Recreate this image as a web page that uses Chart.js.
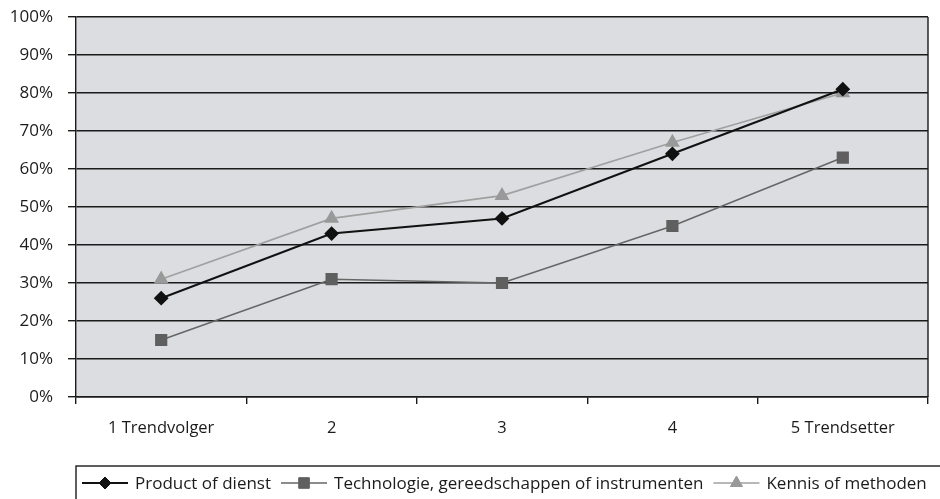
<!DOCTYPE html>
<html>
<head>
<meta charset="utf-8">
<script src="https://cdn.jsdelivr.net/npm/chart.js@4"></script>
<style>
  html, body { margin: 0; padding: 0; background: #fff; }
  #wrap { width: 940px; height: 499px; }
</style>
</head>
<body>
<div id="wrap"><canvas id="trend-chart" width="940" height="499"></canvas></div>
<script>
const categories = ["1 Trendvolger", "2", "3", "4", "5 Trendsetter"];
const seriesNames = ["Product of dienst", "Technologie, gereedschappen of instrumenten", "Kennis of methoden"];
const productValues = [26, 43, 47, 64, 81];
const techValues = [15, 31, 30, 45, 63];
const kennisValues = [31, 47, 53, 67, 80];
const yTicks = [0, 10, 20, 30, 40, 50, 60, 70, 80, 90, 100];

const FONT = "'Open Sans'";
const INK = "#1b1b1b";

// grey plot background plus right edge of the frame
const plotBackground = {
    id: 'plotBackground',
    beforeDraw(chart) {
        const a = chart.chartArea;
        const ctx = chart.ctx;
        ctx.save();
        ctx.fillStyle = '#dcdde0';
        ctx.fillRect(a.left, a.top, a.right - a.left, a.bottom - a.top);
        ctx.restore();
    },
    afterDatasetsDraw(chart) {
        const a = chart.chartArea;
        const ctx = chart.ctx;
        ctx.save();
        ctx.strokeStyle = INK;
        ctx.lineWidth = 1.4;
        ctx.beginPath();
        ctx.moveTo(a.right, a.top);
        ctx.lineTo(a.right, a.bottom);
        ctx.stroke();
        ctx.restore();
    }
};

// legend in a framed box: line + marker + label per series
const boxLegend = {
    id: 'boxLegend',
    afterDraw(chart) {
        const ctx = chart.ctx;
        const left = chart.chartArea.left;
        const top = 466;
        const cy = 483;
        ctx.save();
        ctx.strokeStyle = INK;
        ctx.lineWidth = 1.4;
        ctx.strokeRect(left, top, 1000, 100);
        ctx.font = "17px " + FONT;
        ctx.textBaseline = 'middle';
        let x = left + 6;
        chart.data.datasets.forEach(ds => {
            ctx.strokeStyle = ds.borderColor;
            ctx.lineWidth = ds.borderWidth;
            ctx.beginPath();
            ctx.moveTo(x, cy);
            ctx.lineTo(x + 46, cy);
            ctx.stroke();
            ctx.fillStyle = ds.pointBackgroundColor;
            ctx.strokeStyle = ds.pointBorderColor;
            ctx.lineWidth = 1;
            Chart.helpers.drawPoint(ctx, {
                pointStyle: ds.pointStyle,
                radius: ds.pointRadius,
                rotation: 0,
                borderWidth: 1
            }, x + 23, cy);
            ctx.fillStyle = INK;
            ctx.fillText(ds.label, x + 53, cy + 1);
            x += 53 + ctx.measureText(ds.label).width + 10;
        });
        ctx.restore();
    }
};

function buildTrendChart() {
    const ctx = document.getElementById('trend-chart').getContext('2d');
    return new Chart(ctx, {
        type: 'line',
        data: {
            labels: categories,
            datasets: [{
                label: seriesNames[0],
                data: productValues,
                borderColor: '#111111',
                borderWidth: 2,
                pointStyle: 'rectRot',
                pointRadius: 6,
                pointBackgroundColor: '#111111',
                pointBorderColor: '#111111'
            }, {
                label: seriesNames[1],
                data: techValues,
                borderColor: '#666666',
                borderWidth: 1.6,
                pointStyle: 'rect',
                pointRadius: 7.5,
                pointBackgroundColor: '#5f5f5f',
                pointBorderColor: '#5f5f5f'
            }, {
                label: seriesNames[2],
                data: kennisValues,
                borderColor: '#a0a0a0',
                borderWidth: 1.6,
                pointStyle: 'triangle',
                pointRadius: 7,
                pointBackgroundColor: '#999999',
                pointBorderColor: '#999999'
            }]
        },
        options: {
            responsive: false,
            animation: false,
            layout: { padding: { top: 17, right: 12, left: 0, bottom: 0 } },
            plugins: {
                legend: { display: false },
                tooltip: { enabled: false }
            },
            elements: { line: { tension: 0 } },
            scales: {
                x: {
                    offset: true,
                    afterFit(scale) { scale.height = 102; },
                    grid: {
                        offset: true,
                        drawOnChartArea: false,
                        drawTicks: true,
                        tickLength: 7,
                        color: INK,
                        lineWidth: 1.4
                    },
                    border: { display: true, color: INK, width: 1.4 },
                    ticks: {
                        color: INK,
                        padding: 14,
                        maxRotation: 0,
                        font: { family: FONT, size: 16.5 }
                    }
                },
                y: {
                    min: yTicks[0],
                    max: yTicks[yTicks.length - 1],
                    afterFit(scale) {
                        scale.width = 76;
                        scale.paddingTop = 0;
                        scale.paddingBottom = 0;
                    },
                    afterBuildTicks(scale) { scale.ticks = yTicks.map(v => ({ value: v })); },
                    grid: {
                        color: INK,
                        lineWidth: 1.4,
                        tickLength: 8,
                        drawTicks: true
                    },
                    border: { display: true, color: INK, width: 1.4 },
                    ticks: {
                        color: INK,
                        padding: 15,
                        font: { family: FONT, size: 17 },
                        callback: v => v + '%'
                    }
                }
            }
        },
        plugins: [plotBackground, boxLegend]
    });
}

function initPage() {
    buildTrendChart();
}

document.addEventListener('DOMContentLoaded', initPage);
</script>
</body>
</html>
